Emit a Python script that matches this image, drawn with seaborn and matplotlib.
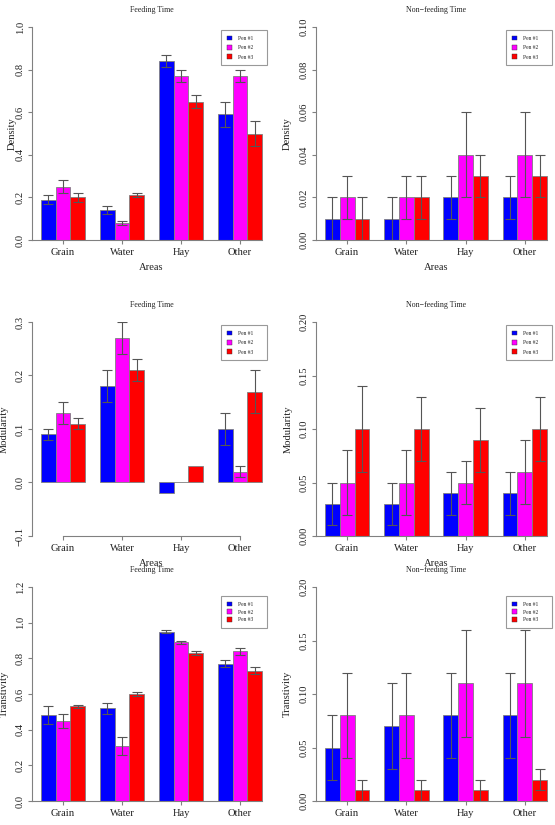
import numpy as np
import pandas as pd
import matplotlib
matplotlib.use("Agg")
import matplotlib.pyplot as plt
from matplotlib.patches import Patch
import seaborn as sns

# categories
areas = ["Grain", "Water", "Hay", "Other"]
pens = ["Pen #1", "Pen #2", "Pen #3"]
pen_colors = ["#0000FF", "#FF00FF", "#FF0000"]

# values: one row per pen, one column per area
density_feed = [[0.19, 0.14, 0.84, 0.59], [0.25, 0.08, 0.77, 0.77], [0.20, 0.21, 0.65, 0.50]]
density_feed_err = [[0.02, 0.02, 0.03, 0.06], [0.03, 0.01, 0.03, 0.03], [0.02, 0.01, 0.03, 0.06]]

density_nonfeed = [[0.01, 0.01, 0.02, 0.02], [0.02, 0.02, 0.04, 0.04], [0.01, 0.02, 0.03, 0.03]]
density_nonfeed_err = [[0.01, 0.01, 0.01, 0.01], [0.01, 0.01, 0.02, 0.02], [0.01, 0.01, 0.01, 0.01]]

modularity_feed = [[0.09, 0.18, -0.02, 0.10], [0.13, 0.27, 0.00, 0.02], [0.11, 0.21, 0.03, 0.17]]
modularity_feed_err = [[0.01, 0.03, 0.0, 0.03], [0.02, 0.03, 0.0, 0.01], [0.01, 0.02, 0.0, 0.04]]

modularity_nonfeed = [[0.03, 0.03, 0.04, 0.04], [0.05, 0.05, 0.05, 0.06], [0.10, 0.10, 0.09, 0.10]]
modularity_nonfeed_err = [[0.02, 0.02, 0.02, 0.02], [0.03, 0.03, 0.02, 0.03], [0.04, 0.03, 0.03, 0.03]]

trans_feed = [[0.48, 0.52, 0.95, 0.77], [0.45, 0.31, 0.89, 0.84], [0.53, 0.60, 0.83, 0.73]]
trans_feed_err = [[0.05, 0.03, 0.01, 0.02], [0.04, 0.05, 0.01, 0.02], [0.01, 0.01, 0.01, 0.02]]

trans_nonfeed = [[0.05, 0.07, 0.08, 0.08], [0.08, 0.08, 0.11, 0.11], [0.01, 0.01, 0.01, 0.02]]
trans_nonfeed_err = [[0.03, 0.04, 0.04, 0.04], [0.04, 0.04, 0.05, 0.05], [0.01, 0.01, 0.01, 0.01]]

W, H = 555, 825
sns.set_theme(style="white")
plt.rcParams["font.family"] = ["Liberation Serif", "DejaVu Serif"]
plt.rcParams["axes.linewidth"] = 0.8

GREY = "#808080"
TXT = "#222222"
FS = 7.6


def fx(x):
    return x / W


def fy(y):
    return 1 - y / H


def long_df(means):
    rows = []
    for i, pen in enumerate(pens):
        for j, area in enumerate(areas):
            rows.append({"area": area, "pen": pen, "value": means[i][j]})
    return pd.DataFrame(rows)


def fmt(v, nd):
    return f"{v:.{nd}f}".replace("-", "\u2212")


def draw_panel(fig, col, row, means, errs, ylim, step, nd, ylabel, title, ylab_x,
               areas_label=True, low_axis=False):
    x0, x1 = (32.2, 270.8) if col == 0 else (316.1, 555.9)
    ytop, ybot = [(27, 240), (322, 536), (587, 801)][row]
    ax = fig.add_axes([fx(x0), fy(ybot), fx(x1 - x0), (ybot - ytop) / H])
    ax.patch.set_alpha(0)

    sns.barplot(data=long_df(means), x="area", y="value", hue="pen",
                order=areas, hue_order=pens, palette=pen_colors, saturation=1,
                width=0.75, gap=0, errorbar=None, edgecolor=GREY, linewidth=0.6,
                legend=False, ax=ax)

    bar_groups = list(ax.containers)
    for i, cont in enumerate(bar_groups):
        for j, p in enumerate(cont.patches):
            e = errs[i][j]
            if e <= 0:
                continue
            xc = p.get_x() + p.get_width() / 2
            ax.errorbar(xc, means[i][j], yerr=e, fmt="none", ecolor="#555555",
                        elinewidth=0.8, capsize=3.6, capthick=0.8)

    ax.set_xlim(-0.525, 3.525)
    ax.set_ylim(*ylim)
    ticks = np.round(np.arange(ylim[0], ylim[1] + step / 2, step), 4)
    ax.set_yticks(ticks)
    ax.set_yticklabels([fmt(t, nd) for t in ticks])
    for lbl in ax.get_yticklabels():
        lbl.set_rotation(90)
        lbl.set_va("center")
    ax.set_xticks(range(len(areas)))
    ax.set_xticklabels(areas)
    ax.set_xlabel("")
    ax.set_ylabel("")

    for s in ["top", "right"]:
        ax.spines[s].set_visible(False)
    for s in ["left", "bottom"]:
        ax.spines[s].set_color(GREY)
        ax.spines[s].set_linewidth(0.8)
    ax.spines["left"].set_bounds(ylim[0], ylim[1])
    if low_axis:
        ax.spines["bottom"].set_bounds(0, 3)
    else:
        ax.spines["bottom"].set_bounds(-0.525, 3.375)
    ax.tick_params(axis="both", direction="out", length=3, width=0.8, color=GREY,
                   labelsize=FS, labelcolor=TXT, bottom=True, left=True)
    ax.tick_params(axis="x", pad=2.5)
    ax.tick_params(axis="y", pad=2.5)

    cx = (x0 + x1) / 2
    fig.text(fx(cx), fy(ytop - 17), title, ha="center", va="center",
             fontsize=5.7, color=TXT)
    if areas_label:
        fig.text(fx(cx), fy(ybot + 28), "Areas", ha="center", va="center",
                 fontsize=FS, color=TXT)
    fig.text(fx(ylab_x), fy((ytop + ybot) / 2), ylabel, rotation=90,
             ha="center", va="center", fontsize=FS, color=TXT)

    handles = [Patch(facecolor=c, edgecolor="#333333", linewidth=0.3) for c in pen_colors]
    lx = 267 if col == 0 else 552
    ly = ytop + 3 if row < 2 else ytop + 9
    spacing = 0.75 if row < 2 else 0.45
    leg = ax.legend(handles=handles, labels=[p + "      " for p in pens],
                    loc="upper right",
                    bbox_to_anchor=(fx(lx), fy(ly)), bbox_transform=fig.transFigure,
                    fontsize=4, frameon=True, fancybox=False, borderpad=1.0,
                    handlelength=0.9, handleheight=0.9, handletextpad=1.1,
                    labelspacing=spacing, borderaxespad=0)
    leg.get_frame().set_edgecolor(GREY)
    leg.get_frame().set_linewidth(0.8)
    for t in leg.get_texts():
        t.set_color(TXT)
    return ax


fig = plt.figure(figsize=(W / 100, H / 100), dpi=100)
fig.patch.set_facecolor("white")

nf = "Non\u2212feeding Time"
draw_panel(fig, 0, 0, density_feed, density_feed_err, (0, 1.0), 0.2, 1, "Density", "Feeding Time", 12)
draw_panel(fig, 1, 0, density_nonfeed, density_nonfeed_err, (0, 0.10), 0.02, 2, "Density", nf, 287)
draw_panel(fig, 0, 1, modularity_feed, modularity_feed_err, (-0.1, 0.3), 0.1, 1, "Modularity", "Feeding Time", 4,
           low_axis=True)
draw_panel(fig, 1, 1, modularity_nonfeed, modularity_nonfeed_err, (0, 0.20), 0.05, 2, "Modularity", nf, 288)
draw_panel(fig, 0, 2, trans_feed, trans_feed_err, (0, 1.2), 0.2, 1, "Transtivity", "Feeding Time", 4,
           areas_label=False)
draw_panel(fig, 1, 2, trans_nonfeed, trans_nonfeed_err, (0, 0.20), 0.05, 2, "Transtivity", nf, 287,
           areas_label=False)

fig.savefig("out.png", dpi=100)
